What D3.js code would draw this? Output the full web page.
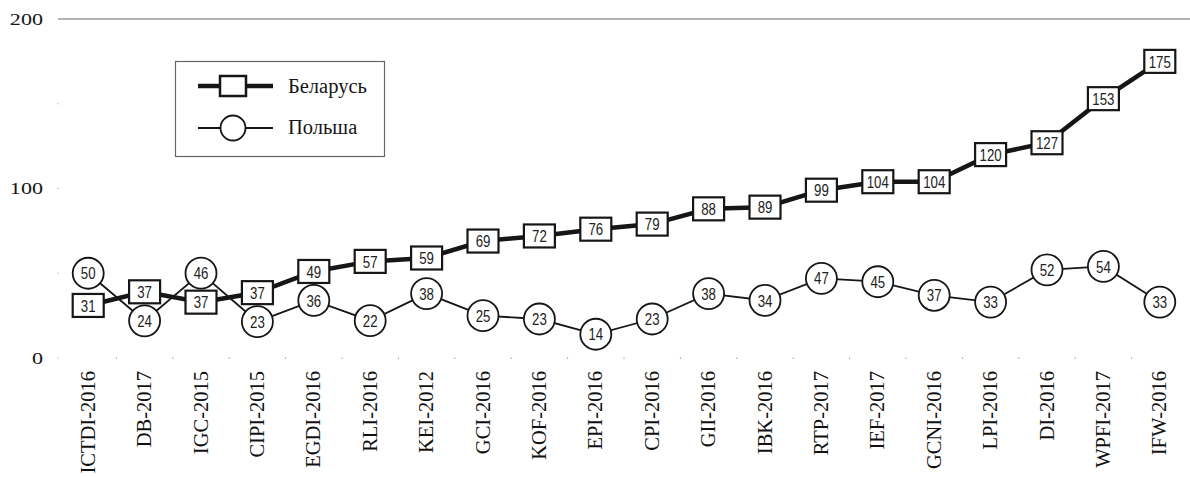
<!DOCTYPE html>
<html>
<head>
<meta charset="utf-8">
<script src="https://cdn.jsdelivr.net/npm/d3@7/dist/d3.min.js"></script>
<style>
  html, body { margin: 0; padding: 0; background: #fff; }
  svg { display: block; }
</style>
</head>
<body>
<svg id="chart" width="1190" height="478"></svg>
<script>
const categories = ["ICTDI-2016","DB-2017","IGC-2015","CIPI-2015","EGDI-2016","RLI-2016","KEI-2012","GCI-2016","KOF-2016","EPI-2016","CPI-2016","GII-2016","IBK-2016","RTP-2017","IEF-2017","GCNI-2016","LPI-2016","DI-2016","WPFI-2017","IFW-2016"];
const belarus = [31,37,37,37,49,57,59,69,72,76,79,88,89,99,104,104,120,127,153,175];
const poland  = [50,24,46,23,36,22,38,25,23,14,23,38,34,47,45,37,33,52,54,33];
const yTicks = [0,100,200];
const yMinor = [50,150];
const seriesNames = ["Беларусь","Польша"];

const svg = d3.select("#chart");
const ink = "#161616";
const serif = "'Liberation Serif','Times New Roman',serif";
const sans = "'Liberation Sans',Arial,sans-serif";

const x = d3.scaleBand().domain(categories).range([60, 1188]);
const xc = d => x(d) + x.bandwidth() / 2;
const y = d3.scaleLinear().domain([0, 200]).range([358, 19]);

const bw = 31, bh = 23, r = 15.5;
const minGap = 29; // keep markers of the two series from overlapping

// display positions: scale positions, pushed apart where markers would collide
const yB = belarus.map(v => y(v));
const yP = poland.map(v => y(v));
categories.forEach((c, i) => {
  const d = yP[i] - yB[i];
  if (Math.abs(d) < minGap) {
    const mid = (yP[i] + yB[i]) / 2;
    const s = d >= 0 ? 1 : -1;
    yP[i] = mid + s * minGap / 2;
    yB[i] = mid - s * minGap / 2;
  }
});

// top gridline at 200
svg.append("line")
  .attr("x1", 58).attr("x2", 1190)
  .attr("y1", y(200)).attr("y2", y(200))
  .attr("stroke", "#6a6a6a").attr("stroke-width", 1.2);

// faint dots: minor ticks at left and band boundaries on the zero line
svg.selectAll(".ydot").data(yMinor.concat([100, 0])).enter().append("rect")
  .attr("x", 57.5).attr("y", d => y(d) - 0.5).attr("width", 1).attr("height", 1)
  .attr("fill", "#999");
const bounds = categories.map(c => x(c)).slice(1);
svg.selectAll(".xdot").data(bounds).enter().append("rect")
  .attr("x", d => d - 0.5).attr("y", y(0) - 0.5).attr("width", 1).attr("height", 1.5)
  .attr("fill", "#999");

// y tick labels
svg.selectAll(".ytick").data(yTicks).enter().append("text")
  .attr("transform", d => `translate(43,${y(d)}) scale(1.3,1)`)
  .attr("text-anchor", "end").attr("dy", "0.35em")
  .attr("font-family", serif).attr("font-size", 17).attr("fill", ink)
  .text(d => d);

// x labels (rotated)
svg.selectAll(".xlab").data(categories).enter().append("text")
  .attr("transform", d => `translate(${xc(d) + 6.5},371) rotate(-90)`)
  .attr("text-anchor", "end")
  .attr("font-family", serif).attr("font-size", 20.5).attr("fill", "#111")
  .text(d => d);

const line = d3.line().x((d, i) => xc(categories[i])).y(d => d);

// lines
svg.append("path").datum(yP).attr("d", line)
  .attr("fill", "none").attr("stroke", ink).attr("stroke-width", 1.8);
svg.append("path").datum(yB).attr("d", line)
  .attr("fill", "none").attr("stroke", ink).attr("stroke-width", 4.5);

// markers
svg.selectAll(".pc").data(poland).enter().append("circle")
  .attr("cx", (d, i) => xc(categories[i])).attr("cy", (d, i) => yP[i]).attr("r", r)
  .attr("fill", "#fff").attr("stroke", ink).attr("stroke-width", 1.8);
svg.selectAll(".bb").data(belarus).enter().append("rect")
  .attr("x", (d, i) => xc(categories[i]) - bw / 2).attr("y", (d, i) => yB[i] - bh / 2)
  .attr("width", bw).attr("height", bh)
  .attr("fill", "#fff").attr("stroke", ink).attr("stroke-width", 2.2);

// value labels (condensed)
function valueLabels(data, pos, cls) {
  svg.selectAll("." + cls).data(data).enter().append("text")
    .attr("transform", (d, i) => `translate(${xc(categories[i])},${pos[i]}) scale(0.78,1)`)
    .attr("dy", "0.36em")
    .attr("text-anchor", "middle").attr("font-family", sans).attr("font-size", 17)
    .attr("fill", "#222")
    .text(d => d);
}
valueLabels(poland, yP, "pt");
valueLabels(belarus, yB, "bt");

// legend
const lg = svg.append("g");
lg.append("rect").attr("x", 175.5).attr("y", 61.5).attr("width", 209).attr("height", 95)
  .attr("fill", "#fff").attr("stroke", "#666").attr("stroke-width", 1.2);
lg.append("line").attr("x1", 198).attr("x2", 273).attr("y1", 86).attr("y2", 86)
  .attr("stroke", ink).attr("stroke-width", 4.5);
lg.append("rect").attr("x", 220).attr("y", 76).attr("width", 26).attr("height", 20)
  .attr("fill", "#fff").attr("stroke", ink).attr("stroke-width", 2.5);
lg.append("line").attr("x1", 198).attr("x2", 273).attr("y1", 128).attr("y2", 128)
  .attr("stroke", ink).attr("stroke-width", 1.8);
lg.append("circle").attr("cx", 233).attr("cy", 128).attr("r", 12.5)
  .attr("fill", "#fff").attr("stroke", ink).attr("stroke-width", 1.8);
lg.selectAll(".lt").data(seriesNames).enter().append("text")
  .attr("x", 288).attr("y", (d, i) => 93 + i * 41)
  .attr("font-family", serif).attr("font-size", 20.5).attr("fill", ink)
  .text(d => d);
</script>
</body>
</html>
